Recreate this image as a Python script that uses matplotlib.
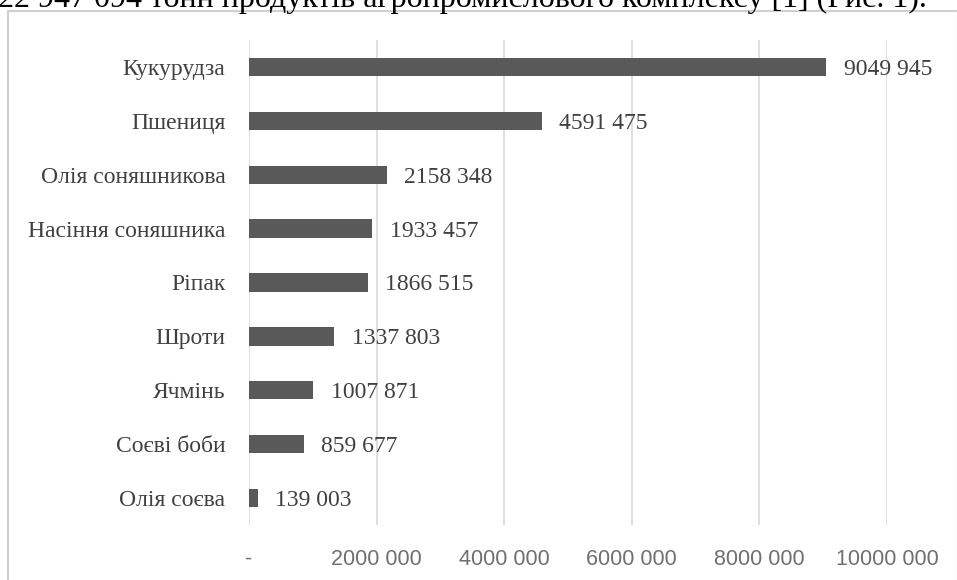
import matplotlib.pyplot as plt
from matplotlib.patches import Rectangle

categories = ["Кукурудза", "Пшениця", "Олія соняшникова", "Насіння соняшника",
              "Ріпак", "Шроти", "Ячмінь", "Соєві боби", "Олія соєва"]
values = [9049945, 4591475, 2158348, 1933457, 1866515, 1337803, 1007871, 859677, 139003]
xticks = [0, 2000000, 4000000, 6000000, 8000000, 10000000]


def fmt(v):
    if v == 0:
        return "-"
    return f"{v // 1000} {v % 1000:03d}"


serif = ["Liberation Serif", "DejaVu Serif"]
sans = ["Liberation Sans", "DejaVu Sans"]

fig = plt.figure(figsize=(9.57, 5.80), dpi=100)
ax = fig.add_axes([249 / 957, 1 - 525 / 580, 638 / 957, 485 / 580])

y = list(range(len(categories)))
ax.barh(y, values, height=0.34, color="#595959", zorder=3)
for yi, v in zip(y, values):
    ax.annotate(fmt(v), (v, yi), xytext=(12.5, 0), textcoords="offset points",
                va="center_baseline", ha="left", fontsize=17, family=serif, color="#404040")

ax.set_xlim(0, 10000000)
ax.set_ylim(len(categories) - 0.5, -0.5)
ax.set_yticks(y)
ax.set_yticklabels(categories, family=serif, fontsize=17, color="#404040",
                   va="center_baseline")
ax.set_xticks(xticks)
ax.set_xticklabels([fmt(t) for t in xticks], family=sans, fontsize=15.5, color="#707070")
ax.tick_params(length=0, axis="y", pad=17)
ax.tick_params(length=0, axis="x", pad=17)
ax.grid(axis="x", color="#d9d9d9", linewidth=1.2, zorder=0)
for s in ax.spines.values():
    s.set_visible(False)

# chart border
fig.patches.append(Rectangle((8 / 957, -0.01), 950 / 957, 1 - 11 / 580 + 0.01,
                             transform=fig.transFigure, fill=False,
                             edgecolor="#d0d0d0", linewidth=1.5))

# cropped line of document text above the chart
fig.text(-0.002, 1 - 7 / 580, "22 947 094 тонн продуктів агропромислового комплексу [1] (Рис. 1).",
         family=serif, fontsize=23, color="black", va="baseline", ha="left")

fig.savefig("out.png", dpi=100)
